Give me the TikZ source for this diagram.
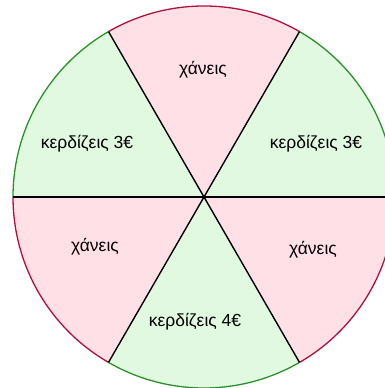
\documentclass[tikz,border=0pt]{standalone}
\usepackage{fontspec}
\setmainfont{Liberation Sans}
\usetikzlibrary{calc}
\definecolor{losefill}{HTML}{FFE0E6}
\definecolor{loseline}{HTML}{B0103E}
\definecolor{winfill}{HTML}{E1F8E1}
\definecolor{winline}{HTML}{2A922A}

\begin{document}
\begin{tikzpicture}[x=1pt, y=1pt, font=\fontsize{17.5}{20}\selectfont,
    lose/.style={fill=losefill},
    win/.style={fill=winfill},
    spoke/.style={draw=black, line width=1.4pt}]
        \useasboundingbox (0,0) rectangle (385,388);
        \clip (0,0) rectangle (385,388);
        \coordinate (c) at (204,191);
        % sectors
        \foreach \a/\kind/\col in {0/win/winline, 60/lose/loseline, 120/win/winline,
                                   180/lose/loseline, 240/win/winline, 300/lose/loseline} {
          \fill[\kind] (c) -- ++(\a:191) arc[start angle=\a, end angle=\a+60, radius=191] -- cycle;
          \draw[\col, line width=1.3pt] ($(c)+(\a:191)$) arc[start angle=\a, end angle=\a+60, radius=191];
        }
        % spokes
        \draw[spoke] (c) -- ++(0:191);
        \draw[spoke] (c) -- ++(60:191);
        \draw[spoke] (c) -- ++(120:191);
        \draw[spoke] (c) -- ++(180:191);
        \draw[spoke] (c) -- ++(240:191);
        \draw[spoke] (c) -- ++(300:191);
        % labels
        \node (top) at (203,318) {χάνεις};
        \node (upleft) at (87,244) {κερδίζεις 3€};
        \node (upright) at (316,244) {κερδίζεις 3€};
        \node (lowleft) at (95,141) {χάνεις};
        \node (lowright) at (313,138) {χάνεις};
        \node (bottom) at (195,66) {κερδίζεις 4€};
      \end{tikzpicture}
\end{document}
